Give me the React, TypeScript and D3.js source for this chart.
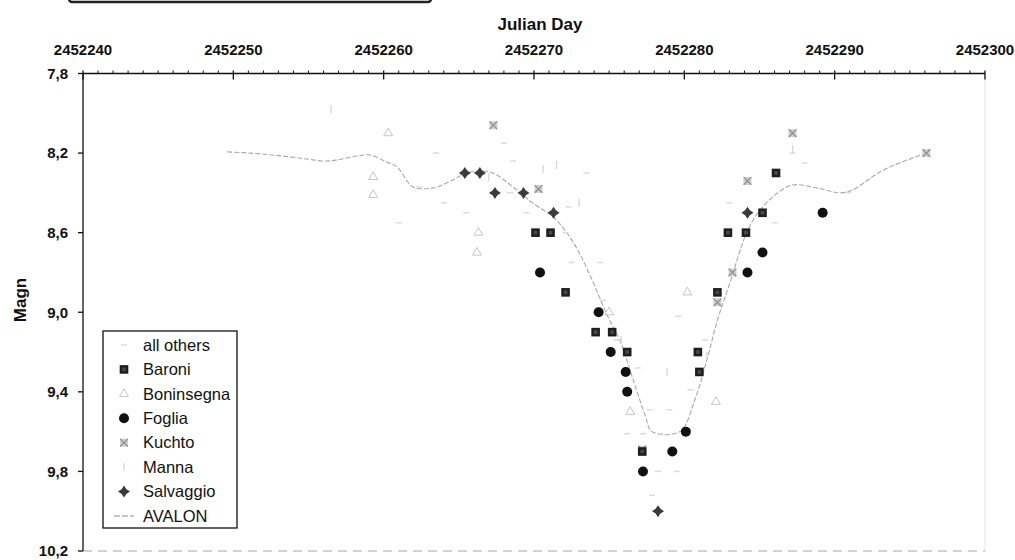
import React from 'react';
import * as d3 from 'd3';

// ---------- data ----------
const xTickValues = [2452240, 2452250, 2452260, 2452270, 2452280, 2452290, 2452300];
const yTickValues = [7.8, 8.2, 8.6, 9.0, 9.4, 9.8, 10.2];
const yTickLabels = ['7,8', '8,2', '8,6', '9,0', '9,4', '9,8', '10,2'];

const legendNames = ['all others', 'Baroni', 'Boninsegna', 'Foglia', 'Kuchto', 'Manna', 'Salvaggio', 'AVALON'];

const baroni: [number, number][] = [
  [2452270.1, 8.6], [2452271.1, 8.6], [2452272.1, 8.9], [2452274.1, 9.1], [2452275.2, 9.1],
  [2452276.2, 9.2], [2452277.2, 9.7], [2452280.9, 9.2], [2452281.0, 9.3], [2452282.2, 8.9],
  [2452282.9, 8.6], [2452284.1, 8.6], [2452285.2, 8.5], [2452286.1, 8.3],
];

const foglia: [number, number][] = [
  [2452270.4, 8.8], [2452274.3, 9.0], [2452275.1, 9.2], [2452276.1, 9.3], [2452276.2, 9.4],
  [2452277.25, 9.8], [2452279.2, 9.7], [2452280.1, 9.6], [2452284.2, 8.8], [2452285.2, 8.7],
  [2452289.2, 8.5],
];

const salvaggio: [number, number][] = [
  [2452265.4, 8.3], [2452266.4, 8.3], [2452267.4, 8.4], [2452269.3, 8.4], [2452271.3, 8.5],
  [2452284.2, 8.5], [2452278.25, 10.0],
];

const kuchto: [number, number][] = [
  [2452267.3, 8.06], [2452270.3, 8.38], [2452284.2, 8.34], [2452287.2, 8.1], [2452296.1, 8.2],
  [2452283.2, 8.8], [2452282.2, 8.95], [2452277.2, 9.69],
];

const boninsegna: [number, number][] = [
  [2452260.3, 8.1], [2452259.3, 8.32], [2452259.3, 8.41], [2452266.3, 8.6], [2452266.2, 8.7],
  [2452280.2, 8.9], [2452276.4, 9.5], [2452275.0, 9.0], [2452282.1, 9.45],
];

const manna: [number, number][] = [
  [2452256.5, 7.98], [2452287.2, 8.18], [2452270.6, 8.28], [2452278.85, 9.3], [2452275.8, 9.14],
  [2452271.5, 8.26], [2452267.0, 8.32], [2452281.5, 9.22], [2452273.0, 8.45],
];

const allOthers: [number, number][] = [
  [2452268.6, 8.24], [2452272.3, 8.47], [2452272.1, 8.6], [2452268.4, 8.4], [2452262.4, 8.37],
  [2452274.4, 8.75], [2452274.6, 8.94], [2452275.5, 9.14], [2452277.7, 9.49], [2452276.2, 9.61],
  [2452277.25, 9.61], [2452278.4, 9.61], [2452279.0, 9.49], [2452278.25, 9.8], [2452277.85, 9.92],
  [2452280.4, 9.39], [2452281.4, 9.14], [2452287.2, 8.2], [2452290.9, 8.4], [2452264.0, 8.45],
  [2452263.5, 8.2], [2452268.0, 8.15], [2452269.5, 8.5], [2452265.5, 8.5], [2452272.5, 8.75],
  [2452283.0, 8.45], [2452286.0, 8.55], [2452288.0, 8.25], [2452279.6, 9.02], [2452273.5, 8.3],
  [2452261.0, 8.55], [2452276.9, 9.28], [2452279.5, 9.8],
];

const avalon: [number, number][] = [
  [2452249.6, 8.194], [2452251.1, 8.2], [2452253.3, 8.215], [2452254.9, 8.23], [2452256.0, 8.24],
  [2452256.9, 8.235], [2452258.2, 8.215], [2452259.1, 8.21], [2452260.2, 8.245], [2452260.9, 8.27],
  [2452261.95, 8.37], [2452263.3, 8.375], [2452264.6, 8.335], [2452265.5, 8.3], [2452267.07, 8.295],
  [2452268.6, 8.37], [2452269.9, 8.45], [2452271.4, 8.53], [2452272.7, 8.66], [2452273.7, 8.81],
  [2452274.9, 9.02], [2452275.7, 9.14], [2452276.6, 9.34], [2452277.4, 9.52], [2452277.85, 9.6],
  [2452279.7, 9.6], [2452280.7, 9.44], [2452281.5, 9.24], [2452282.2, 9.04], [2452283.0, 8.86],
  [2452284.2, 8.59], [2452285.0, 8.49], [2452286.2, 8.4], [2452287.2, 8.36], [2452288.8, 8.375],
  [2452290.4, 8.4], [2452291.2, 8.385], [2452293.0, 8.295], [2452294.3, 8.25], [2452296.3, 8.195],
];

// ---------- markers ----------
const FONT = '"Liberation Sans", Arial, Helvetica, sans-serif';
const starPath = 'M0,-6 L2.4,-2.4 L6,0 L2.4,2.4 L0,6 L-2.4,2.4 L-6,0 L-2.4,-2.4 Z';
const triPath = d3.symbol(d3.symbolTriangle, 34)() as string;
const timesPath = d3.symbol(d3.symbolTimes, 40)() as string;

function marker(name: string, key: string | number) {
  switch (name) {
    case 'all others':
      return <path key={key} d="M-3,0 L3,0" stroke="#dcdcdc" strokeWidth={1.5} />;
    case 'Baroni':
      return (
        <g key={key}>
          <rect x={-4.3} y={-4.3} width={8.6} height={8.6} fill="#1e1e1e" />
          <rect x={-1.8} y={-1.8} width={3.6} height={3.6} fill="#4a4a4a" />
        </g>
      );
    case 'Boninsegna':
      return <path key={key} d={triPath} fill="none" stroke="#c6c6c6" strokeWidth={1} />;
    case 'Foglia':
      return <circle key={key} r={5} fill="#111" />;
    case 'Kuchto':
      return (
        <g key={key}>
          <rect x={-4} y={-4} width={8} height={8} fill="#d0d0d0" />
          <path d={timesPath} stroke="#8e8e8e" strokeWidth={1.2} />
        </g>
      );
    case 'Manna':
      return <path key={key} d="M0,-4 L0,4" stroke="#d6d6d6" strokeWidth={1.3} />;
    case 'Salvaggio':
      return <path key={key} d={starPath} fill="#3a3a3a" />;
    default:
      return null;
  }
}

export default function App() {
  const W = 1015;
  const H = 560;
  const x = d3.scaleLinear().domain([2452240, 2452300]).range([83, 985]);
  const y = d3.scaleLinear().domain([7.8, 10.2]).range([73.5, 551]);
  const top = y(7.8);
  const bottom = y(10.2);
  const left = x(2452240);
  const right = x(2452300);

  const minorX = d3.range(2452240, 2452301, 1).filter((v) => (v - 2452240) % 10 !== 0);

  const line = d3
    .line<[number, number]>()
    .x((d) => x(d[0]))
    .y((d) => y(d[1]))
    .curve(d3.curveCatmullRom.alpha(0.5));

  const series: [string, [number, number][]][] = [
    ['all others', allOthers],
    ['Manna', manna],
    ['Boninsegna', boninsegna],
    ['Kuchto', kuchto],
    ['Salvaggio', salvaggio],
    ['Baroni', baroni],
    ['Foglia', foglia],
  ];

  const legX = 103;
  const legY = 331;
  const legW = 134;
  const legH = 197;
  const legStep = 24.43;

  return (
    <svg
      width={W}
      height={H}
      viewBox={`0 0 ${W} ${H}`}
      style={{ position: 'absolute', left: 0, top: 0, background: '#fff' }}
    >
      <rect x={0} y={0} width={W} height={H} fill="#fff" />
      {/* cut-off box at top */}
      <rect x={69} y={-20} width={362} height={22} rx={3} fill="none" stroke="#222" strokeWidth={2.5} />

      {/* plot frame: right + bottom faint */}
      <line x1={right} y1={top} x2={right} y2={bottom} stroke="#e6e6e6" strokeWidth={1} />
      <line x1={left} y1={bottom} x2={right} y2={bottom} stroke="#a8a8a8" strokeWidth={1.2} strokeDasharray="9,6" />

      {/* AVALON line */}
      <path d={line(avalon) || ''} fill="none" stroke="#a8a8a8" strokeWidth={1.1} strokeDasharray="5,2" />

      {/* series markers */}
      {series.map(([name, pts]) => (
        <g key={name}>
          {pts.map((p, i) => (
            <g key={i} transform={`translate(${x(p[0])},${y(p[1])})`}>
              {marker(name, i)}
            </g>
          ))}
        </g>
      ))}

      {/* top x axis */}
      <line x1={left} y1={top} x2={right} y2={top} stroke="#111" strokeWidth={1.3} />
      {minorX.map((v) => (
        <line key={v} x1={x(v)} y1={top - 3} x2={x(v)} y2={top} stroke="#111" strokeWidth={1} />
      ))}
      {xTickValues.map((v) => (
        <g key={v}>
          <line x1={x(v)} y1={top - 3} x2={x(v)} y2={top + 6} stroke="#111" strokeWidth={1.3} />
          <text
            x={x(v)}
            y={55}
            textAnchor="middle"
            fontFamily={FONT}
            fontWeight="bold"
            fontSize={15}
            fill="#111"
          >
            {v}
          </text>
        </g>
      ))}
      <text x={540} y={30} textAnchor="middle" fontFamily={FONT} fontWeight="bold" fontSize={17} fill="#111">
        Julian Day
      </text>

      {/* left y axis */}
      <line x1={left} y1={top} x2={left} y2={bottom} stroke="#111" strokeWidth={1.3} />
      {yTickValues.map((v, i) => (
        <g key={v}>
          <line x1={left - 5} y1={y(v)} x2={left} y2={y(v)} stroke="#111" strokeWidth={1.3} />
          <text
            x={68}
            y={y(v)}
            dy="0.35em"
            textAnchor="end"
            fontFamily={FONT}
            fontWeight="bold"
            fontSize={15}
            fill="#111"
          >
            {yTickLabels[i]}
          </text>
        </g>
      ))}
      <text
        transform="translate(26,300) rotate(-90)"
        textAnchor="middle"
        fontFamily={FONT}
        fontWeight="bold"
        fontSize={17}
        fill="#111"
      >
        Magn
      </text>

      {/* legend */}
      <rect x={legX} y={legY} width={legW} height={legH} fill="#fff" stroke="#111" strokeWidth={1.3} />
      {legendNames.map((name, i) => {
        const cy = legY + 14 + i * legStep;
        return (
          <g key={name}>
            <g transform={`translate(124,${cy})`}>
              {name === 'AVALON' ? (
                <path d="M-10,0 L10,0" stroke="#8a8a8a" strokeWidth={1.1} strokeDasharray="6,2" />
              ) : (
                marker(name, name)
              )}
            </g>
            <text x={143} y={cy} dy="0.35em" fontFamily={FONT} fontSize={16.5} fill="#111">
              {name}
            </text>
          </g>
        );
      })}
    </svg>
  );
}
